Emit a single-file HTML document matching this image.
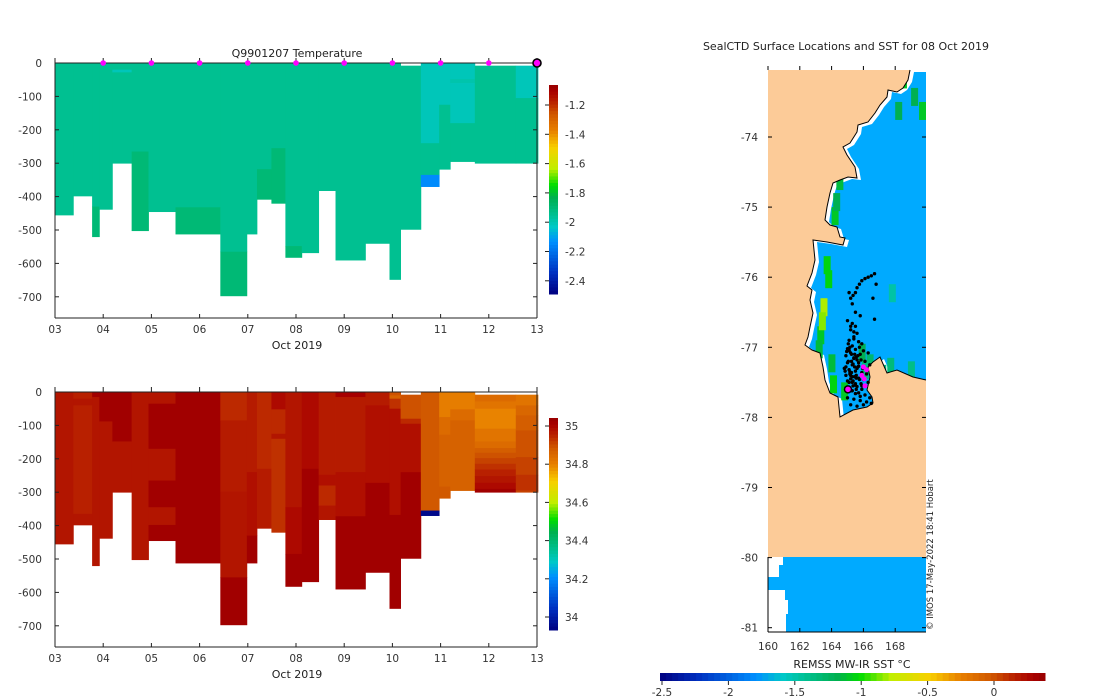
<!DOCTYPE html>
<html><head><meta charset="utf-8"><style>
body{margin:0;background:#fff}
svg{display:block;font-family:"DejaVu Sans","Liberation Sans",sans-serif}
</style></head><body>
<svg id="fig" width="1100" height="700" viewBox="0 0 1100 700" xmlns="http://www.w3.org/2000/svg"></svg>
<script>
// ---------- data ----------
const colStart=[0,0.38,0.77,0.92,1.19,1.59,1.94,2.50,3.43,3.98,4.19,4.49,4.78,5.12,5.47,5.82,6.44,6.94,7.17,7.59,7.97,8.20,8.71,9.56];
const colEnd=[0.38,0.77,0.92,1.19,1.59,1.94,2.50,3.43,3.98,4.19,4.49,4.78,5.12,5.47,5.82,6.44,6.94,7.17,7.59,7.97,8.20,8.71,9.56,10.02];
const tempSegs=[
[[0,455,-1.93]],[[0,398,-1.93]],[[0,430,-1.93],[430,520,-1.88]],[[0,438,-1.93]],
[[0,20,-1.93],[20,28,-1.99],[28,300,-1.93]],[[0,265,-1.93],[265,502,-1.88]],[[0,445,-1.93]],
[[0,432,-1.93],[432,512,-1.88]],[[0,565,-1.93],[565,697,-1.88]],[[0,512,-1.93]],
[[0,318,-1.93],[318,408,-1.88]],[[0,255,-1.93],[255,420,-1.88]],[[0,548,-1.93],[548,582,-1.88]],
[[0,568,-1.93]],[[0,382,-1.93]],[[0,590,-1.93]],[[0,540,-1.93]],[[0,648,-1.93]],[[8,498,-1.93]],
[[0,240,-1.99],[240,335,-1.93],[335,370,-2.12]],[[0,125,-1.99],[125,318,-1.93]],
[[0,48,-1.99],[48,60,-1.97],[60,180,-1.99],[180,295,-1.93]],[[8,300,-1.93]],[[8,105,-1.99],[105,300,-1.93]]
];
const salSegs=[
[[0,455,34.98]],
[[0,20,34.96],[20,40,34.98],[40,365,34.96],[365,398,34.98]],
[[0,15,35.03],[15,520,34.98]],
[[0,88,35.03],[88,438,34.98]],
[[0,148,35.03],[148,300,34.98]],
[[0,502,34.98]],
[[0,35,34.98],[35,170,35.03],[170,265,34.98],[265,345,35.03],[345,398,34.98],[398,445,35.03]],
[[0,512,35.03]],
[[0,85,34.95],[85,298,34.97],[298,555,34.98],[555,697,35.03]],
[[0,240,34.97],[240,430,34.99],[430,512,35.03]],
[[0,230,34.95],[230,408,34.97]],
[[0,52,35.0],[52,125,34.95],[125,140,34.98],[140,420,34.94]],
[[0,345,34.98],[345,485,35.0],[485,582,35.03]],
[[0,230,35.0],[230,568,35.03]],
[[0,248,34.97],[248,280,34.99],[280,340,34.95],[340,382,34.98]],
[[0,15,35.02],[15,240,34.97],[240,372,34.99],[372,590,35.03]],
[[0,40,34.97],[40,272,34.99],[272,540,35.03]],
[[0,10,34.9],[10,20,34.87],[20,50,34.94],[50,368,34.99],[368,648,35.03]],
[[8,80,34.9],[80,95,34.95],[95,240,34.99],[240,498,35.03]],
[[0,355,34.89],[355,370,33.95]],
[[0,75,34.81],[75,128,34.85],[128,283,34.87],[283,318,34.89]],
[[0,52,34.81],[52,85,34.85],[85,295,34.87]],
[[8,28,34.85],[28,50,34.83],[50,110,34.8],[110,148,34.83],[148,168,34.85],[168,182,34.88],[182,198,34.9],[198,215,34.92],[215,232,34.94],[232,252,34.96],[252,272,34.98],[272,290,35.0],[290,300,35.03]],
[[8,40,34.83],[40,70,34.86],[70,115,34.88],[115,195,34.9],[195,248,34.92],[248,295,34.94],[295,300,34.92]]
];
const dayTicks=["03","04","05","06","07","08","09","10","11","12","13"];
const depthTicks=[0,-100,-200,-300,-400,-500,-600,-700];
const profileDays=[1,2,3,4,5,6,7,8,9];
const lastProfileDay=[10];
const tempCbTicks=[-1.2,-1.4,-1.6,-1.8,-2,-2.2,-2.4];
const salCbTicks=[35,34.8,34.6,34.4,34.2,34];
const latTicks=[-74,-75,-76,-77,-78,-79,-80,-81];
const lonTicks=[160,162,164,166,168];
const sstTicks=[-2.5,-2,-1.5,-1,-0.5,0];
const trackLon=[166.7,166.5,166.3,166.1,165.9,165.75,165.6,165.5,165.35,165.2,165.1,165.3,165.5,165.8,166.6,166.8,166.7,165.0,165.3,165.5,165.2,165.6,165.4,165.1,165.7,165.9,165.3,165.0,165.5,166.0,165.2,165.8,166.3,164.9,165.4,165.6,166.1,165.0,165.3,165.7,166.4,164.8,165.1,165.5,165.9,166.2,164.9,165.3,165.7,166.0,165.1,165.5,165.9,166.3,164.9,165.3,165.7,166.1,165.0,165.4,165.8,166.2,166.5,165.2,165.6,166.0,166.4,165.2,165.4,165.15,165.45,165.55,165.2,165.35,165.6,165.05,165.75,165.25,165.45,165.65,165.15,165.35,165.55,165.1,165.4,164.95,165.25,165.55,165.85,165.05,165.35,165.65,165.95,164.85,165.15,165.45,165.75,165.0,165.3,165.6,165.9,165.2,165.5,165.8,165.1,165.4,165.7,165.25,165.55,165.85,164.9,165.2,165.5];
const trackLat=[-75.95,-75.98,-76.0,-76.02,-76.05,-76.1,-76.15,-76.22,-76.26,-76.3,-76.22,-76.38,-76.5,-76.55,-76.3,-76.1,-76.6,-76.62,-76.66,-76.7,-76.75,-76.8,-76.85,-76.9,-76.92,-76.95,-76.98,-77.02,-77.03,-77.05,-77.08,-77.1,-77.08,-77.12,-77.15,-77.18,-77.2,-77.22,-77.25,-77.27,-77.25,-77.3,-77.32,-77.34,-77.36,-77.38,-77.4,-77.42,-77.44,-77.46,-77.5,-77.52,-77.55,-77.5,-77.58,-77.62,-77.65,-77.68,-77.72,-77.74,-77.76,-77.78,-77.8,-77.82,-77.84,-77.82,-77.72,-76.7,-76.78,-77.0,-77.1,-77.4,-77.45,-77.55,-77.3,-76.95,-77.0,-77.2,-77.28,-77.12,-77.35,-77.48,-77.6,-77.05,-76.88,-77.06,-77.1,-77.14,-77.18,-77.2,-77.24,-77.28,-77.3,-77.34,-77.38,-77.42,-77.46,-77.48,-77.5,-77.56,-77.6,-77.62,-77.66,-77.7,-77.04,-77.16,-77.22,-77.36,-77.44,-77.52,-77.28,-77.4,-77.54];
const magLon=[166.0,166.2,165.9,166.05,166.1];
const magLat=[-77.28,-77.32,-77.4,-77.45,-77.55];
const sstLon=[164.0,164.3,163.6,163.3,163.1,163.9,163.8,164.6,165.7,166.2,167.5,168.8,169.5,168.0,167.6,163.5,163.2,163.0,164.1,164.5,165.9,166.5,167.0,168.3,169.0];
const sstLat=[-75.0,-74.5,-75.9,-76.3,-76.7,-77.4,-77.1,-77.5,-76.95,-77.1,-77.15,-77.2,-73.5,-73.5,-76.1,-75.7,-76.5,-76.9,-74.8,-74.3,-77.2,-77.3,-77.25,-73.05,-73.3];
const sstVal=[-1.1,-1.15,-1.05,-0.8,-1.1,-1.05,-1.15,-1.1,-1.2,-1.3,-1.35,-1.4,-1.1,-1.2,-1.5,-1.05,-0.85,-1.15,-1.2,-1.1,-1.35,-1.45,-1.4,-1.1,-1.2];

// ---------- helpers ----------
const NS="http://www.w3.org/2000/svg";
const svg=document.getElementById('fig');
function mk(tag,attrs,parent,name,txt){
  const e=document.createElementNS(NS,tag);
  for(const k in attrs)e.setAttribute(k,attrs[k]);
  
  
  if(txt!==undefined)e.textContent=txt;
  (parent||svg).appendChild(e);return e;
}
const stops=[[0,[0,0,128]],[0.1,[0,48,192]],[0.25,[0,144,255]],[0.32,[0,200,200]],[0.38,[0,192,144]],[0.46,[0,176,80]],[0.52,[0,221,0]],[0.6,[192,238,0]],[0.7,[248,208,0]],[0.78,[232,128,0]],[0.86,[208,88,0]],[0.92,[184,32,0]],[0.97,[168,0,0]],[1,[150,0,0]]];
function cmap(f){
  f=Math.max(0,Math.min(1,f));
  for(let i=1;i<stops.length;i++){if(f<=stops[i][0]){const a=stops[i-1],b=stops[i];const t=(f-a[0])/(b[0]-a[0]);
    const c=a[1].map((v,j)=>Math.round(v+(b[1][j]-v)*t));return `rgb(${c[0]},${c[1]},${c[2]})`;}}
  return 'rgb(150,0,0)';
}
const xT=d=>55+d*48.2;
const tc=v=>cmap((v+2.46)/1.40);
const sc=v=>cmap((v-33.93)/1.12);

function section(y0,segs,colf,gname,cb){
  const yD=dep=>y0+dep*0.334;
  const g=mk('g',{},svg,gname);
  for(let i=0;i<colStart.length;i++){
    segs[i].forEach(s=>{
      mk('rect',{x:xT(colStart[i]),y:yD(s[0]),width:xT(colEnd[i])-xT(colStart[i])+0.4,height:(s[1]-s[0])*0.334+0.4,fill:colf(s[2])},g,'profile-cell');
    });
  }
  const ax=mk('g',{stroke:'#222','stroke-width':1,fill:'none'},svg,gname+'-axes');
  const yb=y0+255;
  mk('line',{x1:55,y1:y0-5,x2:55,y2:yb},ax,'y-axis-line');
  mk('line',{x1:55,y1:yb,x2:537,y2:yb},ax,'x-axis-line');
  mk('line',{x1:537,y1:y0-5,x2:537,y2:yb},ax,'right-axis-line');
  mk('line',{x1:55,y1:y0,x2:537,y2:y0},ax,'surface-line');
  depthTicks.forEach(t=>{const y=yD(-t);
    mk('line',{x1:55,y1:y,x2:59,y2:y},ax,'y-tick');
    mk('line',{x1:533,y1:y,x2:537,y2:y},ax,'y-tick-right');
    mk('text',{x:42,y:y+4,'text-anchor':'end','font-size':10.5,fill:'#333',stroke:'none'},svg,'y-tick-label',String(t));
  });
  dayTicks.forEach((t,i)=>{const x=xT(i);
    mk('line',{x1:x,y1:yb,x2:x,y2:yb-4},ax,'x-tick');
    mk('line',{x1:x,y1:y0-5,x2:x,y2:y0},ax,'x-tick-top');
    mk('text',{x:x,y:yb+15,'text-anchor':'middle','font-size':10.5,fill:'#333',stroke:'none'},svg,'x-tick-label',t);
  });
  mk('text',{x:297,y:yb+31,'text-anchor':'middle','font-size':11,fill:'#222'},svg,'x-axis-title','Oct 2019');
  const cg=mk('g',{},svg,gname+'-colorbar');
  const N=64;
  for(let k=0;k<N;k++){const h=(cb.y1-cb.y0)/N;
    mk('rect',{x:549,y:cb.y0+k*h,width:9,height:h+0.5,fill:cmap(1-(k+0.5)/N)},cg,'colorbar-step');}
  cb.ticks.forEach(t=>{const y=cb.py(t);
    mk('line',{x1:545,y1:y,x2:549,y2:y,stroke:'#222'},cg,'colorbar-tick');
    mk('text',{x:565,y:y+4,'font-size':10.5,fill:'#333'},cg,'colorbar-label',String(t));
  });
}
mk('text',{x:297,y:57,'text-anchor':'middle','font-size':11,fill:'#222','xml:space':'preserve'},svg,'temperature-title','Q9901207  Temperature');
section(63,tempSegs,tc,'temperature-section',{y0:85,y1:294,ticks:tempCbTicks,py:v=>105+(-1.2-v)/0.2*29.3});
section(392,salSegs,sc,'salinity-section',{y0:418,y1:630,ticks:salCbTicks,py:v=>426+(35-v)*191});
profileDays.forEach(d=>{mk('circle',{cx:xT(d),cy:63,r:2.8,fill:'#f0f'},svg,'profile-marker');});
lastProfileDay.forEach(d=>{mk('circle',{cx:xT(d),cy:63,r:4,fill:'#f0f',stroke:'#000','stroke-width':1.6},svg,'current-profile-marker');});

// ---------- map ----------
const mx=lon=>768+(lon-160)*15.9;
const my=lat=>137+(-74-lat)*70.1;
mk('text',{x:846,y:50,'text-anchor':'middle','font-size':11,fill:'#222'},svg,'map-title','SealCTD Surface Locations and SST for 08 Oct 2019');
const mg=mk('g',{},svg,'map');
mk('rect',{x:768,y:70,width:158,height:562,fill:'#fccb98'},mg,'land');
const coast=[[910,70],[908,80],[903,88],[897,92],[888,90],[887,97],[880,105],[875,113],[868,122],[858,125],[857,132],[850,143],[843,147],[847,155],[855,167],[857,178],[848,177],[840,180],[833,183],[830,193],[827,207],[825,220],[830,225],[837,227],[840,237],[845,238],[843,245],[827,242],[813,240],[815,260],[812,273],[807,286],[812,290],[810,300],[813,313],[810,327],[808,337],[805,345],[812,350],[820,353],[823,367],[825,380],[830,393],[838,397],[840,417],[853,410],[867,407],[873,403],[872,397],[867,390],[870,377],[868,367],[873,362],[880,357],[887,373],[897,370],[913,377],[926,380],[926,70]];
const pts=coast.map(p=>p.join(',')).join(' ');
const defs=mk('defs',{},svg,'defs');
const cp=mk('clipPath',{id:'oc'},defs,'ocean-clip');
mk('polygon',{points:pts},cp,'ocean-clip-shape');
mk('polygon',{points:pts,fill:'#fff'},mg,'ice-shelf');
const og=mk('g',{'clip-path':'url(#oc)'},mg,'ocean-sst');
mk('polygon',{points:coast.map(p=>(p[0]+4)+','+(p[1]+2)).join(' '),fill:'#00aaff'},og,'sst-ocean');
mk('rect',{x:768,y:557,width:158,height:75,fill:'#00aaff'},mg,'sst-south');
mk('polygon',{points:'768,557 783,557 783,565 779,565 779,577 768,577',fill:'#fff'},mg,'ice-south');
mk('polygon',{points:'768,590 785,590 785,600 788,600 788,614 786,614 786,632 768,632',fill:'#fff'},mg,'ice-south-2');
for(let i=0;i<sstLon.length;i++){
  mk('rect',{x:mx(sstLon[i]),y:my(sstLat[i]),width:7,height:18,fill:cmap((sstVal[i]+2.55)/2.95)},og,'sst-cell');
}
mk('polyline',{points:coast.slice(0,-1).map(p=>p.join(',')).join(' '),fill:'none',stroke:'#000','stroke-width':1},mg,'coastline');
for(let i=0;i<trackLon.length;i++){
  mk('circle',{cx:mx(trackLon[i]),cy:my(trackLat[i]),r:1.7,fill:'#000'},mg,'seal-location');
}
for(let i=0;i<magLon.length;i++){
  mk('circle',{cx:mx(magLon[i]),cy:my(magLat[i]),r:2.5,fill:'#f0f'},mg,'recent-location');
}
mk('circle',{cx:mx(165.03),cy:my(-77.6),r:3.5,fill:'#f0f',stroke:'#000','stroke-width':1.5},mg,'current-location');
mk('line',{x1:768,y1:557,x2:768,y2:632,stroke:'#000'},mg,'map-left-axis');
mk('line',{x1:768,y1:632,x2:926,y2:632,stroke:'#000'},mg,'map-bottom-axis');
latTicks.forEach(t=>{const y=my(t);
  mk('line',{x1:768,y1:y,x2:772,y2:y,stroke:'#000'},mg,'lat-tick');
  mk('line',{x1:922,y1:y,x2:926,y2:y,stroke:'#000'},mg,'lat-tick-right');
  mk('text',{x:758,y:y+4,'text-anchor':'end','font-size':10.5,fill:'#333'},svg,'lat-label',String(t));
});
lonTicks.forEach(t=>{const x=mx(t);
  mk('line',{x1:x,y1:632,x2:x,y2:628,stroke:'#000'},mg,'lon-tick');
  mk('line',{x1:x,y1:66,x2:x,y2:70,stroke:'#000'},mg,'lon-tick-top');
  mk('text',{x:x,y:650,'text-anchor':'middle','font-size':10.5,fill:'#333'},svg,'lon-label',String(t));
});
mk('text',{x:0,y:0,'font-size':8.5,fill:'#222',transform:'translate(933,630) rotate(-90)'},svg,'copyright-note','© IMOS 17-May-2022 18:41 Hobart');
const sg=mk('g',{},svg,'sst-colorbar');
const sx=v=>662+(v+2.5)*132.8;
for(let k=0;k<64;k++){const w=(1045-660)/64;
  mk('rect',{x:660+k*w,y:673,width:w+0.5,height:8,fill:cmap((k+0.5)/64)},sg,'sst-colorbar-step');}
sstTicks.forEach(t=>{const x=sx(t);
  mk('line',{x1:x,y1:681,x2:x,y2:685,stroke:'#222'},sg,'sst-colorbar-tick');
  mk('text',{x:x,y:696,'text-anchor':'middle','font-size':10.5,fill:'#333'},sg,'sst-colorbar-label',String(t));
});
mk('text',{x:852,y:668,'text-anchor':'middle','font-size':11,fill:'#222'},svg,'sst-colorbar-title','REMSS MW-IR SST °C');
</script>
</body></html>
